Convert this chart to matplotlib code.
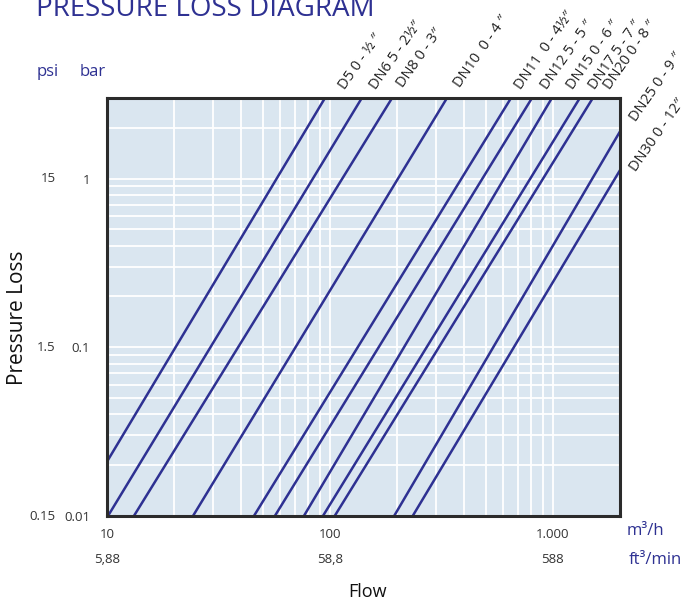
import matplotlib
matplotlib.use("Agg")
import matplotlib.pyplot as plt
from matplotlib.ticker import NullFormatter, LogLocator

plt.rcParams['font.family'] = ['Open Sans', 'DejaVu Sans']

names = ['D5 0 - ½ ″', 'DN6 5 - 2½″', 'DN8 0 - 3″', 'DN10  0 - 4 ″', 'DN11  0 - 4½″',
         'DN12 5 - 5 ″', 'DN15 0 - 6 ″', 'DN17 5 - 7 ″', 'DN20 0 - 8 ″',
         'DN25 0 - 9 ″', 'DN30 0 - 12″']
q_lo = [10, 10.1, 13.2, 24.3, 45.6, 56.6, 76.4, 93.0, 105, 194, 235]
p_lo = [0.021, 0.01, 0.01, 0.01, 0.01, 0.01, 0.01, 0.01, 0.01, 0.01, 0.01]
q_hi = [95, 139, 190, 335, 649, 806, 990, 1321, 1511, 2000, 2000]
p_hi = [3.0, 3.0, 3.0, 3.0, 3.0, 3.0, 3.0, 3.0, 3.0, 1.9, 1.12]

bar_ticks = [0.01, 0.1, 1]
bar_labels = ['0.01', '0.1', '1']
psi_labels = ['0.15', '1.5', '15']
flow_ticks = [10, 100, 1000]
flow_labels = ['10', '100', '1.000']
cfm_labels = ['5,88', '58,8', '588']

blue = '#2e3192'
W, H = 693, 604

fig = plt.figure(figsize=(W / 100, H / 100), dpi=100)
ax = fig.add_axes([107 / W, 1 - 516 / H, 513 / W, 418 / H])
ax.set_facecolor('#dae6f0')
ax.set_xscale('log')
ax.set_yscale('log')
ax.set_xlim(10, 2000)
ax.set_ylim(0.01, 3.0)

ax.xaxis.set_minor_locator(LogLocator(base=10, subs=range(2, 10)))
ax.yaxis.set_minor_locator(LogLocator(base=10, subs=range(2, 10)))
ax.xaxis.set_minor_formatter(NullFormatter())
ax.yaxis.set_minor_formatter(NullFormatter())
ax.grid(which='both', color='white', lw=1.3)
ax.set_axisbelow(True)

for i in range(len(names)):
    ax.plot([q_lo[i], q_hi[i]], [p_lo[i], p_hi[i]], color=blue, lw=1.8,
            solid_capstyle='butt', clip_on=True)

ax.set_xticks(flow_ticks)
ax.set_xticklabels(flow_labels)
ax.set_yticks(bar_ticks)
ax.set_yticklabels(bar_labels)
ax.tick_params(which='both', length=0)
ax.tick_params(axis='x', labelsize=9.5, pad=9, colors='#333333')
ax.tick_params(axis='y', labelsize=9.5, pad=12, colors='#333333')

for s in ax.spines.values():
    s.set_color('#2b2b2b')
    s.set_linewidth(2.2)

# psi column and ft3/min row
for t, lab in zip(bar_ticks, psi_labels):
    ax.text(-0.1, t, lab, transform=ax.get_yaxis_transform(), ha='right',
            va='center', fontsize=9.5, color='#333333')
for t, lab in zip(flow_ticks, cfm_labels):
    ax.text(t, -0.105, lab, transform=ax.get_xaxis_transform(), ha='center',
            va='center', fontsize=9.5, color='#333333')

# line labels at the top / right
label_pos = [(345, 90), (376, 90), (403, 88), (460, 88), (521, 90), (547, 90),
             (573, 90), (595, 90), (610, 90), (636, 122), (636, 172)]
for name, (px, py) in zip(names, label_pos):
    fig.text(px / W, 1 - py / H, name, rotation=55, rotation_mode='anchor',
             ha='left', va='baseline', fontsize=10.5, color='#222222')

fig.text(205 / W, 1 - 16 / H, 'PRESSURE LOSS DIAGRAM', ha='center',
         va='baseline', fontsize=20, color=blue)
fig.text(48 / W, 1 - 72 / H, 'psi', ha='center', va='center', fontsize=12, color=blue)
fig.text(93 / W, 1 - 72 / H, 'bar', ha='center', va='center', fontsize=12, color=blue)
fig.text(645 / W, 1 - 531 / H, 'm³/h', ha='center', va='center', fontsize=12, color=blue)
fig.text(655 / W, 1 - 560 / H, 'ft³/min', ha='center', va='center', fontsize=12, color=blue)
fig.text(368 / W, 1 - 592 / H, 'Flow', ha='center', va='center', fontsize=13, color='#111111')
fig.text(18 / W, 1 - 318 / H, 'Pressure Loss', ha='center', va='center',
         rotation=90, fontsize=15, color='#111111')

fig.savefig('out.png', dpi=100)
